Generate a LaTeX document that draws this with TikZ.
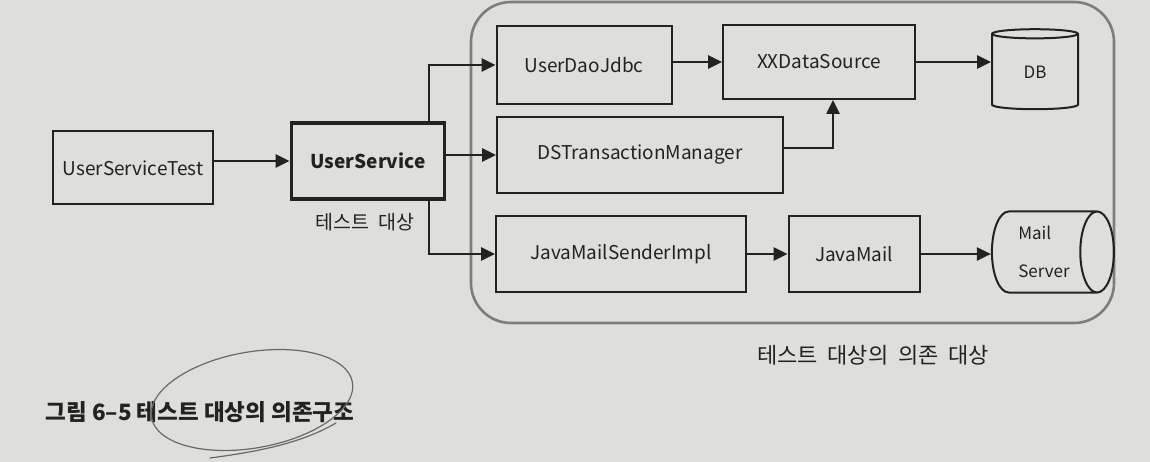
\documentclass[tikz,border=0pt]{standalone}
\usepackage{fontspec}
\setmainfont{Noto Sans CJK KR}
\newfontfamily\widefont{Noto Sans CJK KR}[WordSpace=2]
\usetikzlibrary{arrows.meta,shapes.geometric}
\definecolor{paper}{RGB}{222,222,219}
\definecolor{ink}{RGB}{34,34,34}
\definecolor{frame}{RGB}{125,125,123}
\definecolor{pencil}{RGB}{105,105,103}

\begin{document}
\begin{tikzpicture}[x=1pt, y=-1pt, every node/.style={font=\fontsize{19}{22}\selectfont, text=ink},
	box/.style={draw=ink, line width=2pt, minimum height=75pt, inner sep=0pt},
	store/.style={draw=ink, line width=2pt, cylinder, inner sep=0pt, font=\fontsize{17}{38}\selectfont},
	lbl/.style={font=\widefont\fontsize{19.5}{22}\selectfont},
	arr/.style={-{Triangle[length=14pt,width=13pt]}, draw=ink, line width=2.6pt},
	pen/.style={draw=pencil, line width=1.2pt, line cap=round}]
	\fill[paper] (0,0) rectangle (1150,462);
	\useasboundingbox (0,0) rectangle (1150,462);
	% frame round the dependencies
	\node[draw=frame, line width=2.6pt, rounded corners=40pt, minimum width=643pt, minimum height=321pt] (deps) at (792.5,162.5) {};
	\node[lbl, font=\widefont\fontsize{22}{24}\selectfont] (depsl) at (873,355) {테스트 대상의 의존 대상};
	% test and target
	\node[box, minimum width=160pt, minimum height=73pt] (ust) at (133,168) {UserServiceTest};
	\node[box, line width=3.8pt, minimum width=153pt, minimum height=76pt, font=\fontsize{19}{22}\selectfont\bfseries] (us) at (368,161) {UserService};
	\node[lbl] (usl) at (365,222) {테스트 대상};
	% dependencies
	\node[box, minimum width=175pt, minimum height=78pt] (udj) at (584,65) {UserDaoJdbc};
	\node[box, minimum width=192pt, minimum height=74pt] (xds) at (819,62) {XXDataSource};
	\node[store, shape border rotate=90, aspect=0.4, minimum width=86pt, minimum height=80pt] (db) at (1035,72) {DB};
	\node[box, minimum width=286pt, minimum height=76pt] (dstm) at (640,155) {DSTransactionManager};
	\node[box, minimum width=250pt] (jmsi) at (621,254) {JavaMailSenderImpl};
	\node[box, minimum width=131pt] (jm) at (854,254) {JavaMail};
	\node[store, aspect=0.65, minimum width=81pt, minimum height=122pt, align=left] (ms) at (1044,252) {Mail\\Server};
	% connectors
	\coordinate (br) at (429,161);
	\draw[arr] (ust.east |- us.west) -- (us.west);
	\draw[arr] (us.north -| br) |- (udj.west);
	\draw[arr] (us.east |- dstm.west) -- (dstm.west);
	\draw[arr] (us.south -| br) |- (jmsi.west);
	\draw[arr] (udj.east |- xds.west) -- (xds.west);
	\draw[arr] ([yshift=7pt]dstm.east) -| ([xshift=14pt]xds.south);
	\draw[arr] (xds.east) -- (xds.east -| db.west);
	\draw[arr] (jmsi) -- (jm);
	\draw[arr] (jm.east) -- (jm.east -| ms.west);
	% caption
	\node[anchor=west, font=\fontsize{22.5}{24}\selectfont\bfseries] (cap) at (42,412) {그림 6–5 테스트 대상의 의존구조};
	\draw[pen, rotate around={10:(252,400)}] (252,400) ellipse [x radius=102, y radius=48];
	\draw[pen] (336,423) .. controls (300,444) and (255,452) .. (210,458);
\end{tikzpicture}
\end{document}
